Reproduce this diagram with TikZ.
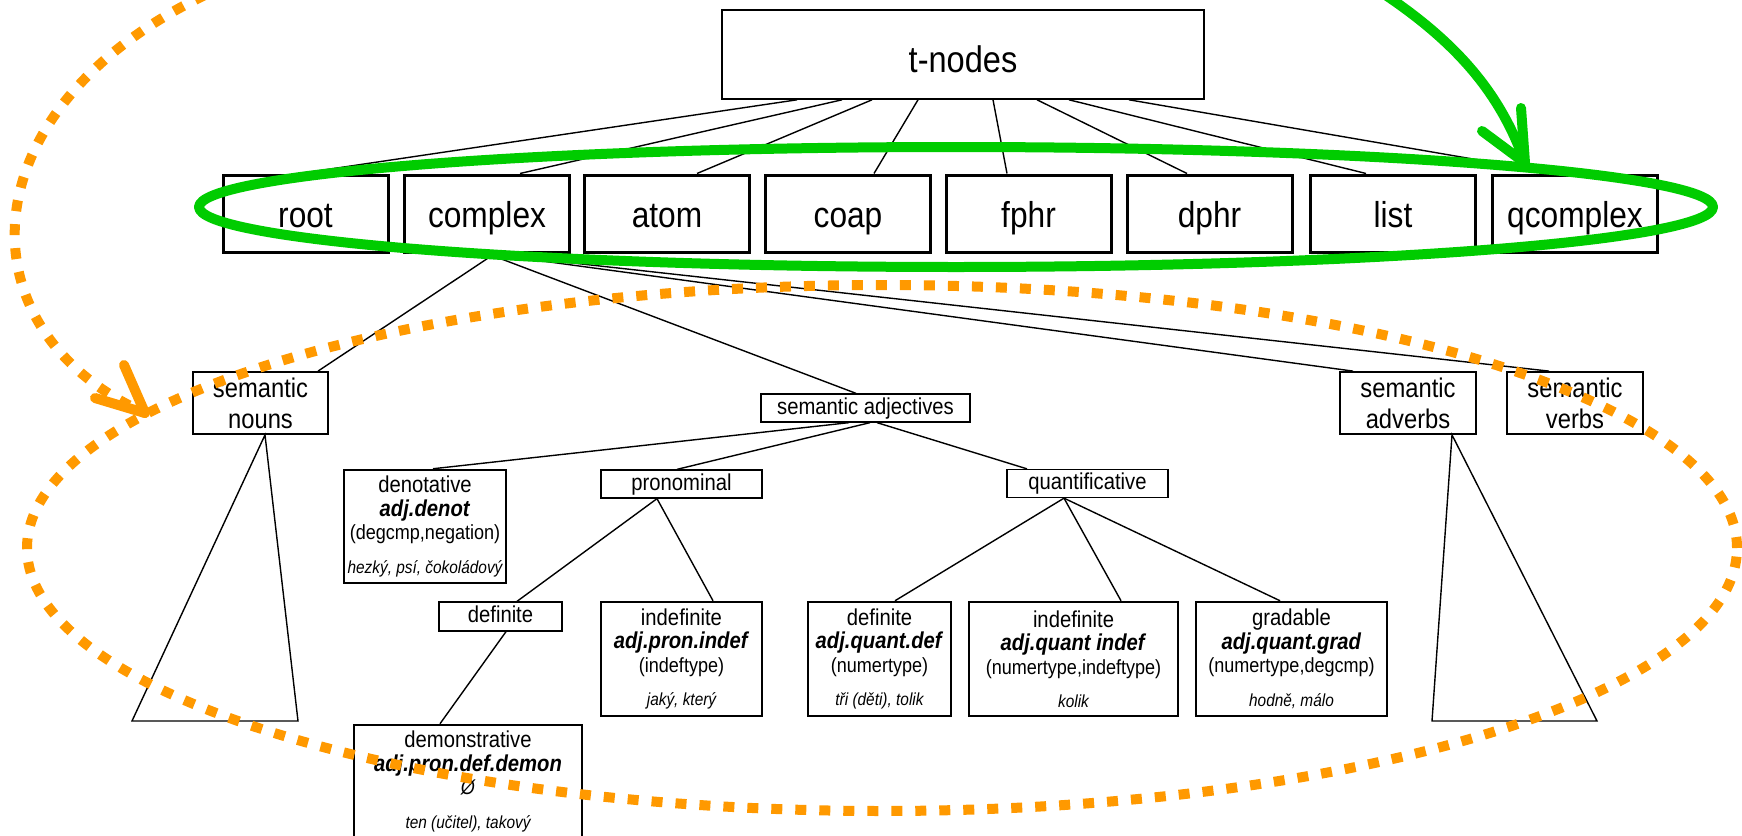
\documentclass[tikz,border=0pt]{standalone}
\usepackage{fontspec}
\setmainfont{Liberation Sans}[FakeStretch=0.88]
\usetikzlibrary{calc}
\definecolor{grn}{RGB}{0,204,0}
\definecolor{org}{RGB}{255,153,0}
\newcommand\bi[1]{\textbf{\textit{#1}}}
\newcommand\exfont{\fontsize{17.5}{20}\selectfont\itshape}
\newcommand\parfont{\fontsize{20.5}{23}\selectfont}
\tikzset{
 base/.style={draw, fill=white, inner sep=0pt, align=center},
 topbox/.style={base, line width=1.6pt, minimum width=482pt, minimum height=89pt, font=\fontsize{37}{40}\selectfont, text height=36pt, text depth=0pt},
 rowbox/.style={base, line width=3pt, minimum width=165pt, minimum height=77pt, font=\fontsize{36}{40}\selectfont, text height=27pt, text depth=0pt},
 catbox/.style={base, line width=1.8pt, minimum width=136pt, minimum height=62pt, font=\fontsize{27}{31}\selectfont},
 midbox/.style={base, line width=1.3pt, minimum height=28pt, font=\fontsize{23}{24}\selectfont, text height=17pt, text depth=5pt},
 leafbox/.style={base, line width=2.5pt, minimum height=113pt, font=\fontsize{23}{23.5}\selectfont},
 conn/.style={line width=1.4pt},
 greenline/.style={grn, line width=10pt, line cap=round, line join=round},
 orangedots/.style={org, line width=10pt, dash pattern=on 11pt off 13pt},
 orangehead/.style={org, line width=10pt, line cap=round, line join=round},
}
\begin{document}
\begin{tikzpicture}[x=1pt,y=-1pt]
\useasboundingbox (0,0) rectangle (1742,835);
% nodes
\node[topbox] (tnodes) at (963,54.5) {t-nodes};
\node[rowbox] (root) at (305.5,213.5) {root};
\node[rowbox] (complex) at (487,213.5) {complex};
\node[rowbox] (atom) at (667,213.5) {atom};
\node[rowbox] (coap) at (848,213.5) {coap};
\node[rowbox] (fphr) at (1028.5,213.5) {fphr};
\node[rowbox] (dphr) at (1209.5,213.5) {dphr};
\node[rowbox] (list) at (1393,213.5) {list};
\node[rowbox] (qcomplex) at (1575,213.5) {qcomplex};
\node[catbox, minimum width=135pt] (nouns) at (260.5,403) {semantic\\nouns};
\node[catbox] (adverbs) at (1408,403) {semantic\\adverbs};
\node[catbox] (verbs) at (1575,403) {semantic\\verbs};
\node[midbox, minimum width=209pt] (semadj) at (865.5,408) {semantic adjectives};
\node[leafbox, minimum width=162pt] (denot) at (425,526.5) {denotative\\\bi{adj.denot}\\{\parfont (degcmp,negation)}\\[10pt]{\exfont hezký, psí, čokoládový}};
\node[midbox, minimum width=161pt] (pron) at (681.5,484) {pronominal};
\node[midbox, minimum width=161pt] (quant) at (1087.5,483.5) {quantificative};
\node[midbox, minimum width=123pt, minimum height=29pt] (pdef) at (500.5,616.5) {definite};
\node[leafbox, minimum width=161pt, minimum height=114pt] (pindef) at (681.5,659) {indefinite\\\bi{adj.pron.indef}\\{\parfont (indeftype)}\\[10pt]{\exfont jaký, který}};
\node[leafbox, minimum width=143pt, minimum height=114pt] (qdef) at (879.5,659) {definite\\\bi{adj.quant.def}\\{\parfont (numertype)}\\[10pt]{\exfont tři (děti), tolik}};
\node[leafbox, minimum width=209pt, minimum height=114pt] (qindef) at (1073.5,659) {indefinite\\\bi{adj.quant indef}\\{\parfont (numertype,indeftype)}\\[10pt]{\exfont kolik}};
\node[leafbox, minimum width=191pt, minimum height=114pt] (grad) at (1291.5,659) {gradable\\\bi{adj.quant.grad}\\{\parfont (numertype,degcmp)}\\[10pt]{\exfont hodně, málo}};
\node[leafbox, minimum width=228pt] (demon) at (468,781.5) {demonstrative\\\bi{adj.pron.def.demon}\\{\parfont\itshape Ø}\\[10pt]{\exfont ten (učitel), takový}};
% connectors from t-nodes
\draw[conn] ([xshift=-166pt]tnodes.south) -- ([xshift=-5.5pt]root.north);
\draw[conn] ([xshift=-121pt]tnodes.south) -- ([xshift=33pt]complex.north);
\draw[conn] ([xshift=-91pt]tnodes.south) -- ([xshift=30pt]atom.north);
\draw[conn] ([xshift=-45pt]tnodes.south) -- ([xshift=26pt]coap.north);
\draw[conn] ([xshift=30pt]tnodes.south) -- ([xshift=-21.5pt]fphr.north);
\draw[conn] ([xshift=74pt]tnodes.south) -- ([xshift=-22.5pt]dphr.north);
\draw[conn] ([xshift=106pt]tnodes.south) -- ([xshift=-27pt]list.north);
\draw[conn] ([xshift=166pt]tnodes.south) -- ([xshift=-18pt]qcomplex.north);
% from complex
\draw[conn] ([xshift=8pt]complex.south) -- ([xshift=57.5pt]nouns.north);
\draw[conn] (complex.south) -- ([xshift=-9.5pt]semadj.north);
\draw[conn] (complex.south) -- ([xshift=-55pt]adverbs.north);
\draw[conn] (complex.south) -- ([xshift=-26pt]verbs.north);
% adjectives subtree
\draw[conn] ([xshift=-16.5pt]semadj.south) -- ([xshift=8pt]denot.north);
\draw[conn] ([xshift=4.5pt]semadj.south) -- ([xshift=-4.5pt]pron.north);
\draw[conn] ([xshift=11.5pt]semadj.south) -- ([xshift=-60.5pt]quant.north);
\draw[conn] ([xshift=-24.5pt]pron.south) -- ([xshift=16.5pt]pdef.north);
\draw[conn] ([xshift=-24.5pt]pron.south) -- ([xshift=31.5pt]pindef.north);
\draw[conn] ([xshift=5.5pt]pdef.south) -- ([xshift=-28pt]demon.north);
\draw[conn] ([xshift=-23.5pt]quant.south) -- ([xshift=15.5pt]qdef.north);
\draw[conn] ([xshift=-23.5pt]quant.south) -- ([xshift=47.5pt]qindef.north);
\draw[conn] ([xshift=-23.5pt]quant.south) -- ([xshift=-11.5pt]grad.north);
% triangles
\coordinate (nl) at (132,721); \coordinate (nr) at (298,721);
\draw[conn] ([xshift=4.5pt]nouns.south) -- (nl) -- (nr) -- cycle;
\coordinate (al) at (1432,721); \coordinate (ar) at (1597,721);
\draw[conn] ([xshift=44pt]adverbs.south) -- (al) -- (ar) -- cycle;
% green annotation
\draw[greenline] (956,207) ellipse [x radius=757pt, y radius=60pt];
\coordinate (gs) at (1378,-10); \coordinate (gt) at (1525,163);
\coordinate (gw1) at (1521,108); \coordinate (gw2) at (1482,131);
\draw[greenline] (gs) .. controls (1462,45) and (1502,98) .. (gt);
\draw[greenline] (gw1) -- (gt) -- (gw2);
% orange annotation
\draw[orangedots] (882,548) ellipse [x radius=855pt, y radius=263pt];
\coordinate (os) at (205,-5); \coordinate (ot) at (145,413);
\coordinate (ow1) at (124,365); \coordinate (ow2) at (95,398);
\draw[orangedots] (os) .. controls (-35,110) and (-40,330) .. (ot);
\draw[orangehead] (ow1) -- (ot) -- (ow2);
\end{tikzpicture}
\end{document}
